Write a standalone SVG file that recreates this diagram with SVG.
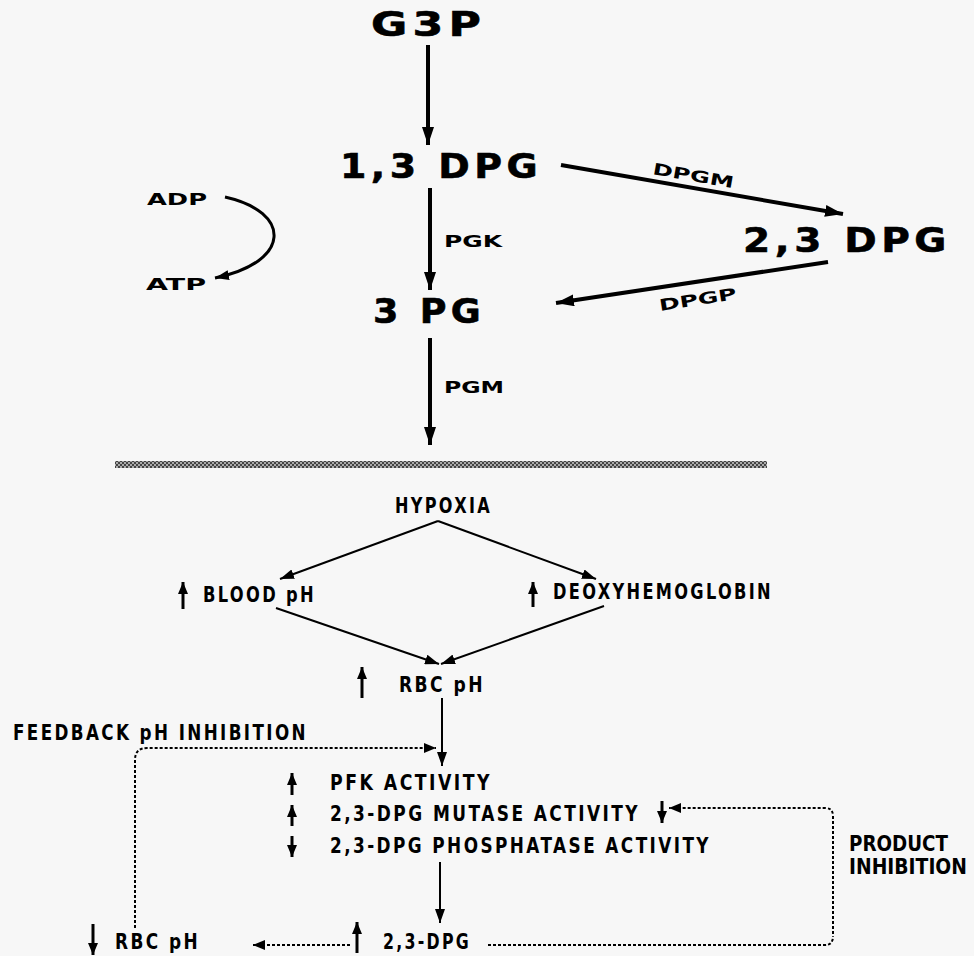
<svg xmlns="http://www.w3.org/2000/svg" width="974" height="956" viewBox="0 0 974 956">
<defs>
<style>
.big{font-family:"DejaVu Sans","Liberation Sans",sans-serif;font-weight:bold;font-size:34px;fill:#000;stroke:#000;stroke-width:0.6;letter-spacing:4px}
.sm{font-family:"DejaVu Sans","Liberation Sans",sans-serif;font-weight:bold;font-size:16px;fill:#000}
.nar{font-family:"DejaVu Sans","Liberation Sans",sans-serif;font-weight:bold;font-size:21px;fill:#000;letter-spacing:3px}
.nar2{font-family:"DejaVu Sans","Liberation Sans",sans-serif;font-weight:bold;font-size:19px;fill:#000}
.thick{stroke:#000;stroke-width:4;fill:none}
.med{stroke:#000;stroke-width:2;fill:none}
.up{stroke:#000;stroke-width:3;fill:none}
.dot{stroke:#000;stroke-width:2;fill:none;stroke-dasharray:3 2}
</style>
<marker id="ab" markerUnits="userSpaceOnUse" markerWidth="20" markerHeight="12" refX="18" refY="6" orient="auto"><path d="M0,0 L18,6 L0,12 Z" fill="#000"/></marker>
<marker id="am" markerUnits="userSpaceOnUse" markerWidth="16" markerHeight="10" refX="14" refY="5" orient="auto"><path d="M0,0 L14,5 L0,10 Z" fill="#000"/></marker>
<marker id="as" markerUnits="userSpaceOnUse" markerWidth="14" markerHeight="10" refX="12" refY="5" orient="auto"><path d="M0,0 L12,5 L0,10 Z" fill="#000"/></marker>
<pattern id="hatch" patternUnits="userSpaceOnUse" width="4" height="4"><rect width="4" height="4" fill="#aaa"/><rect width="2" height="2" fill="#444"/><rect x="2" y="2" width="2" height="2" fill="#444"/></pattern>
</defs>
<rect width="974" height="956" fill="#f7f7f7"/>

<g id="connectors">
<path class="thick" d="M428,45 L428,145" marker-end="url(#ab)"/>
<path class="thick" d="M430,188 L430,290" marker-end="url(#ab)"/>
<path class="thick" d="M430,338 L430,445" marker-end="url(#ab)"/>
<path class="thick" d="M561,165 L843,214" marker-end="url(#ab)"/>
<path class="thick" d="M828,262 L556,303" marker-end="url(#ab)"/>
<path d="M225,197 C292,212 292,262 215,278" stroke="#000" stroke-width="3" fill="none" marker-end="url(#am)"/>
<path class="med" d="M438,521 L280,579" marker-end="url(#am)"/>
<path class="med" d="M438,521 L596,579" marker-end="url(#am)"/>
<path class="med" d="M276,608 L439,664" marker-end="url(#am)"/>
<path class="med" d="M604,606 L441,664" marker-end="url(#am)"/>
<path class="med" d="M442,698 L442,766" marker-end="url(#am)"/>
<path class="med" d="M440,862 L440,923" marker-end="url(#am)"/>
<path class="dot" d="M135,928 L135,760 Q135,748 147,748 L436,748" marker-end="url(#as)"/>
<path class="dot" d="M833,934 L833,816 Q833,808 825,808 L669,808" marker-end="url(#as)"/>
<path class="dot" d="M488,945 L825,945 Q833,945 833,936"/>
<path class="dot" d="M350,945 L253,945" marker-end="url(#as)"/>
</g>

<rect x="115" y="461" width="652" height="7" fill="url(#hatch)"/>

<g id="g3p"><text class="big" x="371" y="36" textLength="115" lengthAdjust="spacingAndGlyphs">G3P</text></g>
<g id="dpg13"><text class="big" x="340" y="178" textLength="202" lengthAdjust="spacingAndGlyphs">1,3 DPG</text></g>
<g id="pg3"><text class="big" x="373" y="323" textLength="112" lengthAdjust="spacingAndGlyphs">3 PG</text></g>
<g id="dpg23"><text class="big" x="743" y="252" textLength="208" lengthAdjust="spacingAndGlyphs">2,3 DPG</text></g>
<g id="adp"><text class="sm" x="147" y="205" textLength="60" lengthAdjust="spacingAndGlyphs">ADP</text></g>
<g id="atp"><text class="sm" x="146" y="290" textLength="60" lengthAdjust="spacingAndGlyphs">ATP</text></g>
<g id="pgk"><text class="sm" x="444" y="247" textLength="58" lengthAdjust="spacingAndGlyphs">PGK</text></g>
<g id="pgm"><text class="sm" x="444" y="393" textLength="60" lengthAdjust="spacingAndGlyphs">PGM</text></g>
<g id="dpgm"><text class="sm" transform="translate(652,174) rotate(10)" textLength="82" lengthAdjust="spacingAndGlyphs">DPGM</text></g>
<g id="dpgp"><text class="sm" transform="translate(660,311) rotate(-9)" textLength="78" lengthAdjust="spacingAndGlyphs">DPGP</text></g>

<g id="hypoxia"><text class="nar" x="395" y="513" textLength="97" lengthAdjust="spacingAndGlyphs">HYPOXIA</text></g>
<g id="blood">
<path class="up" d="M183,609 L183,582" marker-end="url(#as)"/>
<text class="nar" x="203" y="602" textLength="113" lengthAdjust="spacingAndGlyphs">BLOOD pH</text></g>
<g id="deoxy">
<path class="up" d="M533,607 L533,582" marker-end="url(#as)"/>
<text class="nar" x="553" y="599" textLength="220" lengthAdjust="spacingAndGlyphs">DEOXYHEMOGLOBIN</text></g>
<g id="rbc1">
<path class="up" d="M362,698 L362,667" marker-end="url(#as)"/>
<text class="nar" x="399" y="692" textLength="86" lengthAdjust="spacingAndGlyphs">RBC pH</text></g>
<g id="feedback"><text class="nar" x="13" y="740" textLength="295" lengthAdjust="spacingAndGlyphs">FEEDBACK pH INHIBITION</text></g>
<g id="activities">
<path class="up" d="M292,795 L292,773" marker-end="url(#as)"/>
<text class="nar" x="330" y="790" textLength="162" lengthAdjust="spacingAndGlyphs">PFK ACTIVITY</text>
<path class="up" d="M292,826 L292,805" marker-end="url(#as)"/>
<text class="nar" x="330" y="821" textLength="310" lengthAdjust="spacingAndGlyphs">2,3-DPG MUTASE ACTIVITY</text>
<path class="up" d="M662,801 L662,823" marker-end="url(#as)"/>
<path class="up" d="M292,836 L292,857" marker-end="url(#as)"/>
<text class="nar" x="330" y="853" textLength="381" lengthAdjust="spacingAndGlyphs">2,3-DPG PHOSPHATASE ACTIVITY</text>
</g>
<g id="product"><text class="nar2" transform="translate(849,851) scale(1,1.1)" textLength="99" lengthAdjust="spacingAndGlyphs">PRODUCT</text>
<text class="nar2" transform="translate(849,874) scale(1,1.1)" textLength="118" lengthAdjust="spacingAndGlyphs">INHIBITION</text></g>
<g id="dpg2">
<path class="up" d="M357,953 L357,922" marker-end="url(#as)"/>
<text class="nar" x="383" y="949" textLength="88" lengthAdjust="spacingAndGlyphs">2,3-DPG</text></g>
<g id="rbc2">
<path class="up" d="M93,924 L93,955" marker-end="url(#as)"/>
<text class="nar" x="115" y="949" textLength="85" lengthAdjust="spacingAndGlyphs">RBC pH</text></g>
</svg>
